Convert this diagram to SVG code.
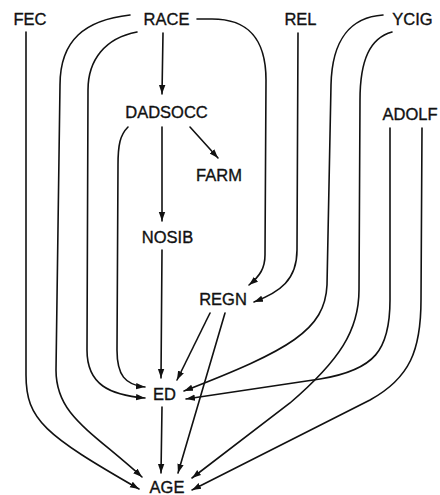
<svg xmlns="http://www.w3.org/2000/svg" width="440" height="495" viewBox="0 0 440 495">
<defs>
<style>
.n text{font-family:"Liberation Sans",Arial,sans-serif;font-size:16.5px;fill:#111;text-anchor:middle;stroke:#111;stroke-width:0.35}
.e path{fill:none;stroke:#111;stroke-width:1.6;stroke-linecap:round}
.a{marker-end:url(#ah)}
</style>
<marker id="ah" markerWidth="10" markerHeight="8" refX="9" refY="4" orient="auto" markerUnits="userSpaceOnUse">
<path d="M0,0.8 L9,4 L0,7.2 Z" fill="#111"/>
</marker>
</defs>
<rect width="440" height="495" fill="#fff"/>
<g class="e" id="connectors">
<path class="a" d="M26,32 L26,375 C26,420 45,435 139,489"/>
<path class="a" d="M130,15 C85,20 60,40 60,85 L56,370 C56,415 90,430 142,477"/>
<path class="a" d="M137,32 C105,38 88,60 88,90 L87,350 C87,385 110,395 145,398"/>
<path class="a" d="M163,33 L162,94"/>
<path class="a" d="M128,127 C120,135 118,145 118,165 L117,350 C117,375 125,385 145,387"/>
<path class="a" d="M162,127 L162,221"/>
<path class="a" d="M190,127 L218,158"/>
<path class="a" d="M162,250 L161,378"/>
<path class="a" d="M197,19 L212,19 C245,19 266,35 266,80 L265,255 C265,268 260,276 249,285"/>
<path class="a" d="M298,33 L297,250 C297,280 280,292 254,302"/>
<path class="a" d="M383,15 C352,17 332,38 331,85 L327,285 C325,330 290,350 184,391"/>
<path class="a" d="M392,32 C370,38 360,60 360,100 L359,290 C359,330 340,360 290,403 L192,478"/>
<path class="a" d="M390,128 L390,300 C390,350 375,370 320,379 L186,399"/>
<path class="a" d="M422,128 L421,300 C421,350 410,378 370,400 L192,490"/>
<path class="a" d="M210,313 L177,380"/>
<path class="a" d="M225,313 L178,473"/>
<path class="a" d="M162,407 L161,473"/>
</g>
<g class="n" id="FEC"><text x="30" y="25">FEC</text></g>
<g class="n" id="RACE"><text x="166.5" y="25">RACE</text></g>
<g class="n" id="REL"><text x="300.5" y="25">REL</text></g>
<g class="n" id="YCIG"><text x="412.5" y="25">YCIG</text></g>
<g class="n" id="DADSOCC"><text x="166.5" y="118">DADSOCC</text></g>
<g class="n" id="ADOLF"><text x="410" y="120">ADOLF</text></g>
<g class="n" id="FARM"><text x="219" y="181">FARM</text></g>
<g class="n" id="NOSIB"><text x="167.5" y="243">NOSIB</text></g>
<g class="n" id="REGN"><text x="223" y="305">REGN</text></g>
<g class="n" id="ED"><text x="164.5" y="400">ED</text></g>
<g class="n" id="AGE"><text x="167" y="493">AGE</text></g>
</svg>
